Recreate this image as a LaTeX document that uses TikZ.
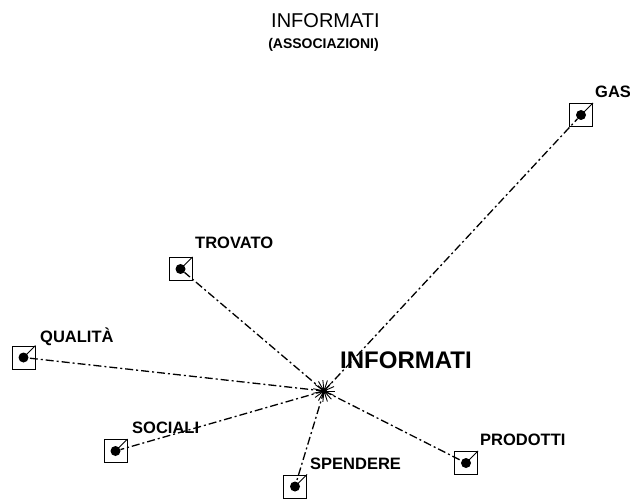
\documentclass[tikz,border=0pt]{standalone}
\usepackage{fontspec}
\setmainfont{Liberation Sans}

\begin{document}
\begin{tikzpicture}[x=1pt,y=-1pt,
    termbox/.style={draw,line width=1pt,minimum size=23pt,inner sep=0pt},
    termdot/.style={circle,fill,inner sep=0pt,minimum size=10pt},
    termlbl/.style={anchor=base west,inner sep=0pt,font=\fontsize{16.5}{19}\selectfont\bfseries},
    link/.style={line width=1.3pt,dash pattern=on 8pt off 3pt on 2pt off 3pt}]
  \useasboundingbox (0,0) rectangle (630,500);

  % titolo
  \node[font=\fontsize{20}{22}\selectfont] (title) at (325.5,21) {INFORMATI};
  \node[font=\fontsize{14}{16}\selectfont\bfseries] (subtitle) at (323.5,45) {(ASSOCIAZIONI)};

  % parola centrale
  \coordinate (hub) at (324,391);
  \node[anchor=base west,inner sep=0pt,font=\fontsize{24}{26}\selectfont\bfseries] (main) at (340,368) {INFORMATI};

  % associazioni
  \foreach \name/\bx/\by/\lx/\ly/\txt in {
      gas/581/115/595/98/GAS,
      trovato/180.5/269/195/248/TROVATO,
      qualita/23.5/357.5/40/342/QUALITÀ,
      sociali/115.5/451/132/433/SOCIALI,
      spendere/295/486.5/310/469/SPENDERE,
      prodotti/466/463/480/445/PRODOTTI} {
    \node[termbox] (\name) at (\bx,\by) {};
    \node[termdot] (\name-dot) at (\bx,\by) {};
    \draw[line width=0.8pt] (\name-dot.center) -- (\name.north east);
    \node[termlbl] (\name-lbl) at (\lx,\ly) {\txt};
    \draw[link] (hub) -- (\name-dot);
  }

  % stella
  \foreach \a in {0,24,...,359}
    \draw[line width=0.9pt] (hub) -- ++(\a:11pt);
  \fill (hub) circle (3pt);
\end{tikzpicture}
\end{document}
